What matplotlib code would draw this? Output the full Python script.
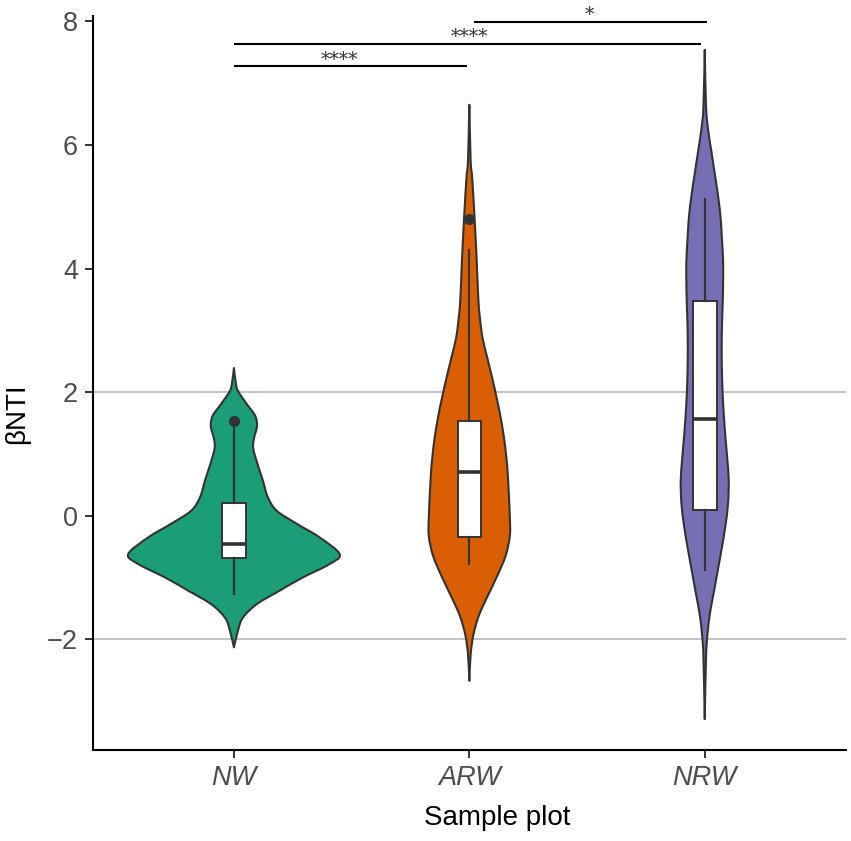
import matplotlib
matplotlib.use("Agg")
import matplotlib.pyplot as plt
from matplotlib.path import Path
from matplotlib.patches import PathPatch
import numpy as np

plt.rcParams['font.family'] = ['Liberation Sans', 'DejaVu Sans']

groups = ["NW", "ARW", "NRW"]
colors = ["#1B9E77", "#D95F02", "#7570B3"]

# violin outlines: y value and half-width (x units)
nw_y = [2.39, 2.15, 2.02, 1.81, 1.62, 1.45, 1.25, 1.09, 0.84, 0.57, 0.30, 0.08,
        -0.13, -0.35, -0.62, -0.78, -1.00, -1.21, -1.43, -1.65, -1.86, -2.13]
nw_w = [0.0, 0.008, 0.017, 0.054, 0.090, 0.098, 0.085, 0.082, 0.100, 0.123, 0.144, 0.182,
        0.267, 0.364, 0.449, 0.407, 0.292, 0.195, 0.097, 0.038, 0.017, 0.0]

arw_y = [6.65, 5.76, 5.44, 4.80, 4.16, 3.52, 3.20, 2.88, 2.56, 2.23, 1.91, 1.59,
         1.27, 0.95, 0.63, -0.01, -0.33, -0.65, -0.97, -1.29, -1.61, -1.93, -2.25, -2.67]
arw_w = [0.0, 0.0055, 0.0127, 0.0225, 0.031, 0.038, 0.045, 0.056, 0.076, 0.097, 0.116, 0.133,
         0.147, 0.157, 0.164, 0.172, 0.172, 0.154, 0.119, 0.079, 0.041, 0.017, 0.0055, 0.0]

nrw_y = [7.54, 6.62, 6.26, 5.90, 5.55, 5.19, 4.84, 4.48, 4.12, 3.77, 3.41, 3.05, 2.70, 2.34,
         1.98, 1.63, 1.27, 0.91, 0.56, 0.20, -0.16, -0.51, -0.87, -1.23, -1.58, -1.94, -2.29, -3.29]
nrw_w = [0.0, 0.0055, 0.014, 0.028, 0.042, 0.056, 0.067, 0.073, 0.078, 0.078, 0.076, 0.073, 0.072, 0.073,
         0.076, 0.081, 0.088, 0.096, 0.102, 0.099, 0.088, 0.073, 0.056, 0.039, 0.022, 0.011, 0.0055, 0.0]

# box stats
q1 = [-0.68, -0.35, 0.09]
med = [-0.46, 0.71, 1.57]
q3 = [0.20, 1.54, 3.47]
whis_lo = [-1.26, -0.78, -0.87]
whis_hi = [1.47, 4.30, 5.12]
outliers = [[1.54], [4.80], []]

# significance brackets
sig_pairs = [(1, 1.99), (1, 2.985), (2.02, 3.01)]
sig_y = [7.27, 7.63, 7.99]
sig_label_x = [1.45, 2.0, 2.51]
sig_labels = ["****", "****", "*"]


def smooth_side(pts):
    # catmull-rom through the outline points, as bezier segments
    verts = [pts[0]]
    codes = []
    n = len(pts)
    for i in range(n - 1):
        p0 = pts[i - 1] if i > 0 else pts[i]
        p1 = pts[i]
        p2 = pts[i + 1]
        p3 = pts[i + 2] if i + 2 < n else pts[i + 1]
        verts += [p1 + (p2 - p0) / 6, p2 - (p3 - p1) / 6, p2]
        codes += [Path.CURVE4] * 3
    return verts, codes


def violin_path(pos, yy, ww):
    yy = np.array(yy)
    ww = np.array(ww)
    right = np.column_stack([pos + ww, yy])
    left = np.column_stack([pos - ww, yy])[::-1]
    v1, c1 = smooth_side(right)
    v2, c2 = smooth_side(left)
    verts = v1 + v2[1:] + [v1[0]]
    codes = [Path.MOVETO] + c1 + c2 + [Path.CLOSEPOLY]
    return Path(np.array(verts), codes)


fig = plt.figure(figsize=(8.51, 8.41), dpi=100)
ax = fig.add_axes([0.1096, 0.1082, 0.9941 - 0.1096, 0.9813 - 0.1082])

for yv in [2, -2]:
    ax.axhline(yv, color="#BEBEBE", lw=1.3, zorder=1)

profiles = [(nw_y, nw_w), (arw_y, arw_w), (nrw_y, nrw_w)]
for i, (yy, ww) in enumerate(profiles):
    p = violin_path(i + 1, yy, ww)
    ax.add_patch(PathPatch(p, facecolor=colors[i], edgecolor="#333333", lw=1.5,
                           zorder=2, joinstyle="round"))

stats = []
for i in range(3):
    stats.append(dict(med=med[i], q1=q1[i], q3=q3[i], whislo=whis_lo[i],
                      whishi=whis_hi[i], fliers=outliers[i]))
ax.bxp(stats, positions=[1, 2, 3], widths=0.1, patch_artist=True, showcaps=False,
       boxprops=dict(facecolor="white", edgecolor="#333333", lw=1.4),
       medianprops=dict(color="#333333", lw=2.6),
       whiskerprops=dict(color="#333333", lw=1.6),
       flierprops=dict(marker="o", markerfacecolor="#333333", markeredgecolor="#333333",
                       markersize=7),
       zorder=3, manage_ticks=False)

for (x0, x1), yv, lx, lab in zip(sig_pairs, sig_y, sig_label_x, sig_labels):
    ax.plot([x0, x1], [yv, yv], color="black", lw=1.5, zorder=4, solid_capstyle="butt")
    ax.text(lx, yv + 0.03, lab, ha="center", va="baseline", fontsize=13.5,
            color="#333333", family=["DejaVu Serif"])

ax.set_xlim(0.4025, 3.6)
ax.set_ylim(-3.79, 8.09)
ax.set_xticks([1, 2, 3])
ax.set_xticklabels(groups, style="italic")
ax.set_yticks([-2, 0, 2, 4, 6, 8])
ax.set_yticklabels(["\u22122", "0", "2", "4", "6", "8"])
ax.tick_params(axis="both", labelsize=19.5, labelcolor="#4D4D4D", color="#333333",
               width=1.4, length=6, pad=5)

for s in ["top", "right"]:
    ax.spines[s].set_visible(False)
for s in ["left", "bottom"]:
    ax.spines[s].set_linewidth(1.5)
    ax.spines[s].set_color("black")

fig.text(497 / 851, 1 - 818 / 841, "Sample plot", ha="center", va="center",
         fontsize=20, color="black")
fig.text(17 / 851, 1 - 414 / 841, "\u03b2NTI", ha="center", va="center",
         rotation=90, fontsize=20, color="black")

fig.savefig("out.png", dpi=100)
